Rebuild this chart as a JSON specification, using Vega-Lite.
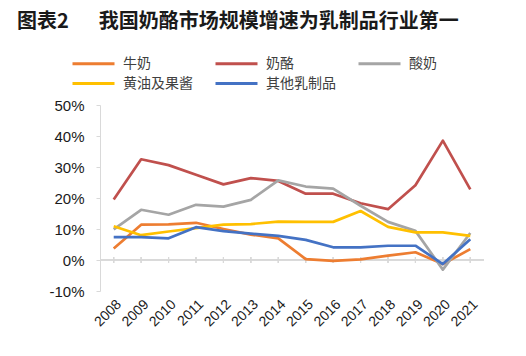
{
  "$schema": "https://vega.github.io/schema/vega-lite/v6.json",
  "width": 384,
  "height": 186,
  "autosize": {"type": "none"},
  "padding": {"left": 100, "top": 105, "right": 42, "bottom": 65},
  "config": {"view": {"stroke": null}, "axis": {"labelOverlap": false}, "axisY": {"labelOverlap": false}, "axisQuantitative": {"labelOverlap": false}},
  "title": {
    "text": "图表2\u3000\u2002我国奶酪市场规模增速为乳制品行业第一",
    "anchor": "start",
    "frame": "group",
    "font": "Noto Sans CJK SC",
    "fontSize": 20,
    "fontWeight": "bold",
    "color": "#1a1a1a",
    "dx": -83,
    "offset": 23
  },
  "data": {
    "values": [
      {"year": "2008", "series": "牛奶", "value": 3.7},
      {"year": "2009", "series": "牛奶", "value": 11.4},
      {"year": "2010", "series": "牛奶", "value": 11.5},
      {"year": "2011", "series": "牛奶", "value": 12.0},
      {"year": "2012", "series": "牛奶", "value": 10.0},
      {"year": "2013", "series": "牛奶", "value": 8.2},
      {"year": "2014", "series": "牛奶", "value": 7.0},
      {"year": "2015", "series": "牛奶", "value": 0.3},
      {"year": "2016", "series": "牛奶", "value": -0.3},
      {"year": "2017", "series": "牛奶", "value": 0.2},
      {"year": "2018", "series": "牛奶", "value": 1.4},
      {"year": "2019", "series": "牛奶", "value": 2.5},
      {"year": "2020", "series": "牛奶", "value": -1.3},
      {"year": "2021", "series": "牛奶", "value": 3.5},
      {"year": "2008", "series": "奶酪", "value": 19.5},
      {"year": "2009", "series": "奶酪", "value": 32.5},
      {"year": "2010", "series": "奶酪", "value": 30.6},
      {"year": "2011", "series": "奶酪", "value": 27.5},
      {"year": "2012", "series": "奶酪", "value": 24.4},
      {"year": "2013", "series": "奶酪", "value": 26.4},
      {"year": "2014", "series": "奶酪", "value": 25.5},
      {"year": "2015", "series": "奶酪", "value": 21.4},
      {"year": "2016", "series": "奶酪", "value": 21.4},
      {"year": "2017", "series": "奶酪", "value": 18.3},
      {"year": "2018", "series": "奶酪", "value": 16.4},
      {"year": "2019", "series": "奶酪", "value": 24.1},
      {"year": "2020", "series": "奶酪", "value": 38.5},
      {"year": "2021", "series": "奶酪", "value": 22.8},
      {"year": "2008", "series": "酸奶", "value": 9.9},
      {"year": "2009", "series": "酸奶", "value": 16.2},
      {"year": "2010", "series": "酸奶", "value": 14.6},
      {"year": "2011", "series": "酸奶", "value": 17.8},
      {"year": "2012", "series": "酸奶", "value": 17.2},
      {"year": "2013", "series": "酸奶", "value": 19.4},
      {"year": "2014", "series": "酸奶", "value": 25.7},
      {"year": "2015", "series": "酸奶", "value": 23.7},
      {"year": "2016", "series": "酸奶", "value": 23.0},
      {"year": "2017", "series": "酸奶", "value": 17.5},
      {"year": "2018", "series": "酸奶", "value": 12.3},
      {"year": "2019", "series": "酸奶", "value": 9.4},
      {"year": "2020", "series": "酸奶", "value": -3.1},
      {"year": "2021", "series": "酸奶", "value": 8.7},
      {"year": "2008", "series": "黄油及果酱", "value": 10.9},
      {"year": "2009", "series": "黄油及果酱", "value": 8.0},
      {"year": "2010", "series": "黄油及果酱", "value": 9.2},
      {"year": "2011", "series": "黄油及果酱", "value": 10.3},
      {"year": "2012", "series": "黄油及果酱", "value": 11.4},
      {"year": "2013", "series": "黄油及果酱", "value": 11.6},
      {"year": "2014", "series": "黄油及果酱", "value": 12.4},
      {"year": "2015", "series": "黄油及果酱", "value": 12.3},
      {"year": "2016", "series": "黄油及果酱", "value": 12.3},
      {"year": "2017", "series": "黄油及果酱", "value": 15.8},
      {"year": "2018", "series": "黄油及果酱", "value": 10.7},
      {"year": "2019", "series": "黄油及果酱", "value": 8.9},
      {"year": "2020", "series": "黄油及果酱", "value": 8.9},
      {"year": "2021", "series": "黄油及果酱", "value": 7.8},
      {"year": "2008", "series": "其他乳制品", "value": 7.4},
      {"year": "2009", "series": "其他乳制品", "value": 7.4},
      {"year": "2010", "series": "其他乳制品", "value": 7.0},
      {"year": "2011", "series": "其他乳制品", "value": 10.6},
      {"year": "2012", "series": "其他乳制品", "value": 9.3},
      {"year": "2013", "series": "其他乳制品", "value": 8.5},
      {"year": "2014", "series": "其他乳制品", "value": 7.8},
      {"year": "2015", "series": "其他乳制品", "value": 6.5},
      {"year": "2016", "series": "其他乳制品", "value": 4.1},
      {"year": "2017", "series": "其他乳制品", "value": 4.1},
      {"year": "2018", "series": "其他乳制品", "value": 4.6},
      {"year": "2019", "series": "其他乳制品", "value": 4.6},
      {"year": "2020", "series": "其他乳制品", "value": -1.3},
      {"year": "2021", "series": "其他乳制品", "value": 6.7}
    ]
  },
  "layer": [
    {
      "mark": {"type": "rule", "color": "#d9d9d9", "strokeWidth": 1},
      "encoding": {"y": {"datum": 0, "type": "quantitative"}}
    },
    {
      "encoding": {
        "x": {
          "field": "year",
          "type": "ordinal",
          "scale": {"type": "point", "padding": 0.5},
          "axis": {
            "title": null,
            "domain": false,
            "ticks": false,
            "labelAngle": -45,
            "labelFont": "Liberation Sans",
            "labelFontSize": 14,
            "labelColor": "#1a1a1a",
            "labelPadding": 6,
            "labelOverlap": false
          }
        },
        "y": {
          "field": "value",
          "type": "quantitative",
          "scale": {"domain": [-10, 50], "nice": false, "zero": false},
          "axis": {
            "title": null,
            "tickCount": 7,
            "labelExpr": "datum.value + '%'",
            "labelOverlap": false,
            "grid": false,
            "ticks": true,
            "tickSize": 4,
            "tickColor": "#d9d9d9",
            "domainColor": "#d9d9d9",
            "labelFont": "Liberation Sans",
            "labelFontSize": 15,
            "labelColor": "#1a1a1a",
            "labelPadding": 12
          }
        }
      },
      "layer": [
        {
          "mark": {"type": "tick", "orient": "vertical", "color": "#d9d9d9", "size": 6, "thickness": 1},
          "encoding": {"y": {"datum": 0, "type": "quantitative"}}
        },
        {
          "mark": {"type": "line", "strokeWidth": 2.7, "strokeJoin": "round"},
          "encoding": {
            "color": {
              "field": "series",
              "type": "nominal",
              "sort": ["牛奶", "奶酪", "酸奶", "黄油及果酱", "其他乳制品"],
              "scale": {
                "domain": ["牛奶", "奶酪", "酸奶", "黄油及果酱", "其他乳制品"],
                "range": ["#ED7D31", "#C0504D", "#A5A5A5", "#FFC000", "#4472C4"]
              },
              "legend": {
                "title": null,
                "orient": "none",
                "direction": "horizontal",
                "legendX": -15,
                "legendY": -50,
                "columns": 3,
                "columnPadding": 16,
                "rowPadding": 4,
                "symbolType": "M-3,0H3",
                "symbolSize": 196,
                "symbolStrokeWidth": 3,
                "labelOffset": 21,
                "labelFont": "Noto Sans CJK SC",
                "labelFontSize": 14,
                "labelColor": "#404040"
              }
            }
          }
        }
      ]
    }
  ]
}
